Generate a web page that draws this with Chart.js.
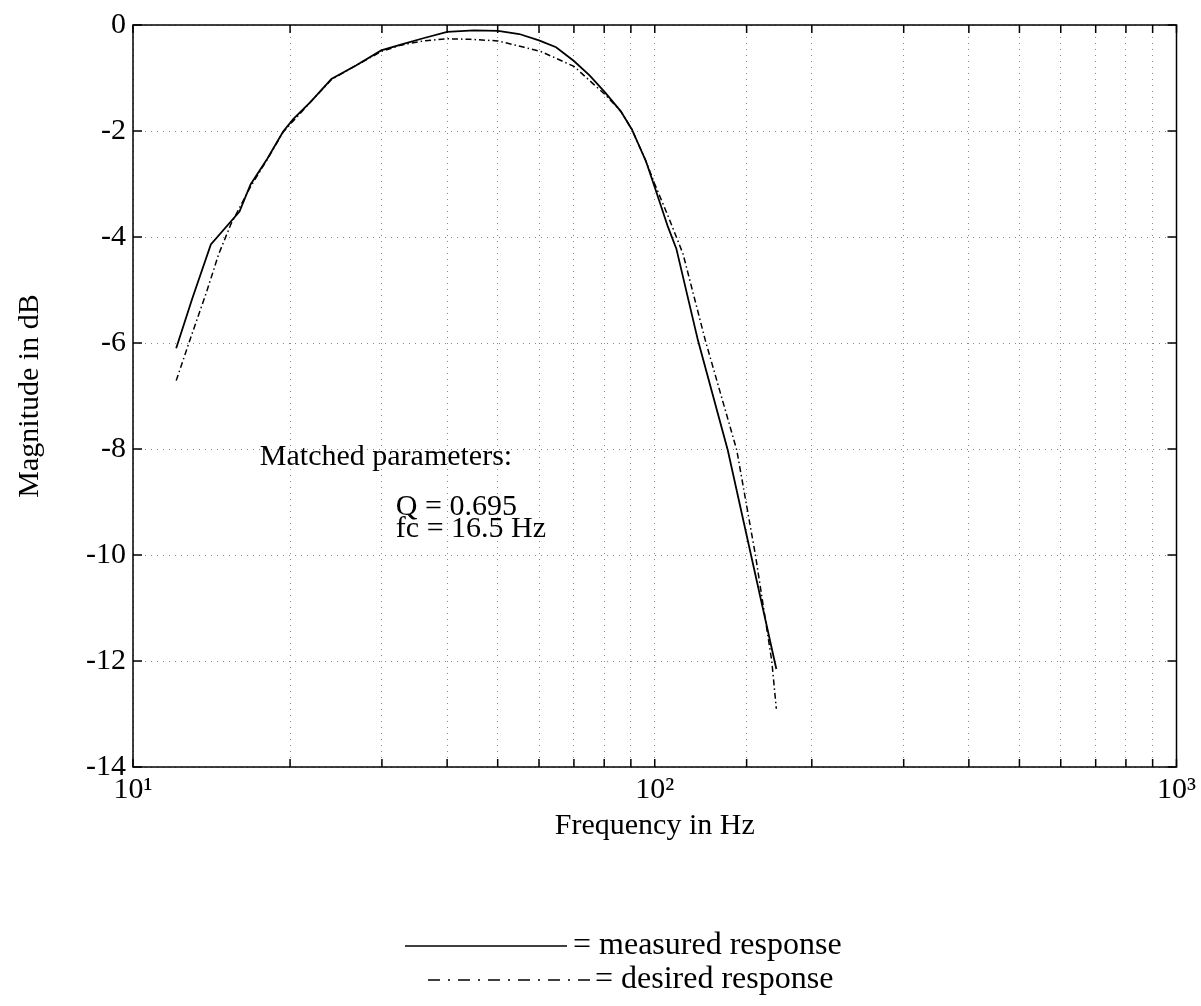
<!DOCTYPE html>
<html>
<head>
<meta charset="utf-8">
<script src="https://cdn.jsdelivr.net/npm/chart.js@4"></script>
<style>
  html, body { margin: 0; padding: 0; background: #fff; }
  #wrap { width: 1201px; height: 1006px; position: relative; }
</style>
</head>
<body>
<div id="wrap"><canvas id="responseChart"></canvas></div>
<script>
// values (frequency in Hz, magnitude in dB)
const measuredFreq = [12.1, 13.0, 14.1, 16.0, 16.8, 18.1, 19.4, 20.3, 21.9, 24.0, 26.8, 29.9, 32.6, 36, 40.0, 45, 50.1, 55, 60, 64.7, 70, 75, 80.3, 86.1, 90.4, 96.2, 100, 106, 110, 121, 138, 153, 171];
const measuredDb = [-6.10, -5.15, -4.14, -3.52, -3.01, -2.52, -2.01, -1.77, -1.45, -1.02, -0.76, -0.48, -0.37, -0.25, -0.13, -0.10, -0.11, -0.17, -0.29, -0.42, -0.68, -0.95, -1.27, -1.63, -1.97, -2.57, -3.06, -3.81, -4.22, -5.95, -8.02, -10.01, -12.15];

const desiredFreq = [12.1, 12.9, 13.8, 14.6, 15.4, 16.8, 18.1, 19.4, 21.9, 24.0, 26.8, 29.9, 32.6, 36, 40, 44.3, 50, 56.2, 60.5, 70, 76.4, 80.3, 86.1, 90.4, 96.2, 100, 106, 113.3, 125, 143.6, 156, 167.6, 171];
const desiredDb = [-6.71, -5.90, -5.07, -4.32, -3.76, -3.05, -2.53, -2.02, -1.45, -1.03, -0.76, -0.50, -0.38, -0.30, -0.26, -0.27, -0.30, -0.42, -0.50, -0.78, -1.12, -1.31, -1.63, -1.97, -2.57, -3.0, -3.6, -4.32, -5.95, -8.02, -10.01, -12.0, -12.9];

const yTicks = [0, -2, -4, -6, -8, -10, -12, -14];
const legendLabels = ['= measured response', '= desired response'];
const noteLines = ['Matched parameters:', 'Q = 0.695', 'fc = 16.5 Hz'];

const FONT = '"Liberation Serif", "Times New Roman", serif';
const SUP = { 1: '\u00b9', 2: '\u00b2', 3: '\u00b3' };

const toPoints = (xs, ys) => xs.map((x, i) => ({ x: x, y: ys[i] }));

// note text anchored in data units (Hz, dB)
const notePos = [
    { f: 17.5, db: -8.15 },
    { f: 31.9, db: -9.09 },
    { f: 31.9, db: -9.52 }
];

const framePlugin = {
    id: 'frame',
    afterDatasetsDraw(chart) {
        const { ctx, chartArea: a, scales } = chart;
        ctx.save();
        ctx.strokeStyle = '#000';
        ctx.lineWidth = 1.5;
        ctx.strokeRect(a.left, a.top, a.right - a.left, a.bottom - a.top);
        ctx.beginPath();
        scales.x.ticks.forEach(t => {
            const px = scales.x.getPixelForValue(t.value);
            ctx.moveTo(px, a.bottom); ctx.lineTo(px, a.bottom - 8);
            ctx.moveTo(px, a.top); ctx.lineTo(px, a.top + 8);
        });
        scales.y.ticks.forEach(t => {
            const py = scales.y.getPixelForValue(t.value);
            ctx.moveTo(a.left, py); ctx.lineTo(a.left + 9, py);
            ctx.moveTo(a.right, py); ctx.lineTo(a.right - 9, py);
        });
        ctx.stroke();

        // annotation
        ctx.fillStyle = '#000';
        ctx.font = '30px ' + FONT;
        ctx.textAlign = 'left';
        ctx.textBaseline = 'middle';
        noteLines.forEach((txt, i) => {
            ctx.fillText(txt, scales.x.getPixelForValue(notePos[i].f), scales.y.getPixelForValue(notePos[i].db));
        });

        // legend below the axis
        ctx.font = '32px ' + FONT;
        const textX = [573, 595];
        const rowY = [946, 980];
        const sampleX = [[405, 567], [428, 590]];
        legendLabels.forEach((txt, i) => {
            const ds = chart.data.datasets[i];
            ctx.beginPath();
            ctx.lineWidth = 1.5;
            ctx.setLineDash(i === 0 ? [] : [12, 8, 2, 8]);
            ctx.moveTo(sampleX[i][0], rowY[i]);
            ctx.lineTo(sampleX[i][1], rowY[i]);
            ctx.strokeStyle = ds.borderColor;
            ctx.stroke();
            ctx.setLineDash([]);
            ctx.fillText(txt, textX[i], rowY[i]);
        });
        ctx.restore();
    }
};

const ctx = document.getElementById('responseChart').getContext('2d');
new Chart(ctx, {
    type: 'scatter',
    data: {
        datasets: [{
            label: 'measured response',
            data: toPoints(measuredFreq, measuredDb),
            showLine: true,
            borderColor: '#000',
            borderWidth: 1.8,
            pointRadius: 0,
            tension: 0
        }, {
            label: 'desired response',
            data: toPoints(desiredFreq, desiredDb),
            showLine: true,
            borderColor: '#000',
            borderWidth: 1.5,
            borderDash: [6, 3, 1.5, 3],
            pointRadius: 0,
            tension: 0
        }]
    },
    options: {
        responsive: true,
        maintainAspectRatio: false,
        animation: false,
        layout: { padding: { left: 0, right: 20, top: 20, bottom: 160 } },
        plugins: {
            legend: { display: false },
            tooltip: { enabled: false }
        },
        scales: {
            x: {
                type: 'logarithmic',
                position: 'bottom',
                min: 10,
                max: 1000,
                afterFit: (scale) => { scale.height = 79; },
                grid: { color: '#888', lineWidth: 1, drawTicks: false },
                border: { display: false, dash: [1, 5] },
                ticks: {
                    autoSkip: false,
                    maxRotation: 0,
                    padding: 5,
                    color: '#000',
                    font: { family: FONT, size: 30 },
                    callback: function (value) {
                        const e = Math.log10(value);
                        const r = Math.round(e);
                        return Math.abs(e - r) < 1e-9 ? '10' + SUP[r] : '';
                    }
                },
                title: {
                    display: true,
                    text: 'Frequency in Hz',
                    color: '#000',
                    font: { family: FONT, size: 30 },
                    padding: { top: 0, bottom: 2 }
                }
            },
            y: {
                min: -14,
                max: 0,
                afterFit: (scale) => { scale.width = 133; },
                afterBuildTicks: (scale) => { scale.ticks = yTicks.map(v => ({ value: v })); },
                grid: { color: '#888', lineWidth: 1, drawTicks: false },
                border: { display: false, dash: [1, 5] },
                ticks: {
                    padding: 7,
                    color: '#000',
                    font: { family: FONT, size: 30 }
                },
                title: {
                    display: true,
                    text: 'Magnitude in dB',
                    color: '#000',
                    font: { family: FONT, size: 30 },
                    padding: { top: 12, bottom: 0 }
                }
            }
        }
    },
    plugins: [framePlugin]
});
</script>
</body>
</html>
